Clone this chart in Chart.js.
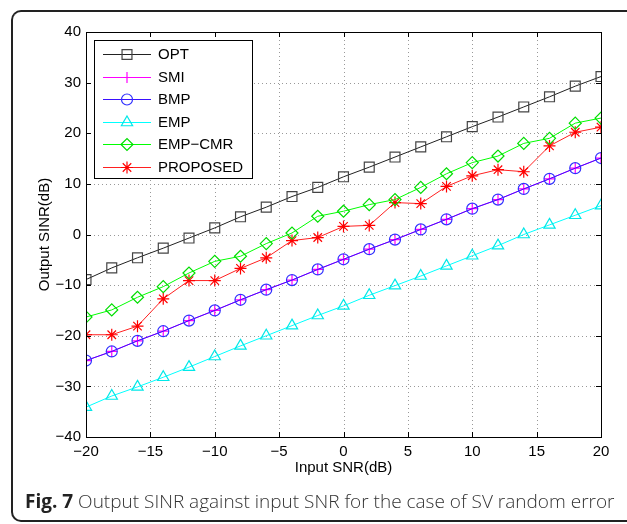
<!DOCTYPE html>
<html>
<head>
<meta charset="utf-8">
<script src="https://cdn.jsdelivr.net/npm/chart.js@4/dist/chart.umd.min.js"></script>
<style>
  html, body { margin:0; padding:0; background:#fff; }
  #wrap { position:relative; width:627px; height:524px; overflow:hidden; background:#fff; }
  #frame { position:absolute; left:11px; top:10px; width:640px; height:512px; box-sizing:border-box;
           border:2px solid #222; border-right:none; border-radius:10px 0 0 10px; }
  #c { position:absolute; left:0; top:0; }
  #cap { position:absolute; left:25px; top:488px; font-family:"Open Sans", sans-serif; font-size:19px;
         color:#333; white-space:nowrap; font-weight:300; }
  #cap b { font-weight:700; color:#222; }
</style>
</head>
<body>
<div id="wrap">
  <div id="frame"></div>
  <canvas id="c" width="627" height="524"></canvas>
  <div id="cap"><b>Fig. 7</b> Output SINR against input SNR for the case of SV random error</div>
</div>
<script>
const inputSNR = [-20,-18,-16,-14,-12,-10,-8,-6,-4,-2,0,2,4,6,8,10,12,14,16,18,20];
const OPT      = [-8.9,-6.6,-4.6,-2.7,-0.7,1.3,3.5,5.4,7.5,9.3,11.4,13.3,15.3,17.3,19.3,21.3,23.2,25.2,27.2,29.3,31.2];
const SMI      = [-24.9,-23.1,-21.0,-19.1,-17.0,-15.0,-12.9,-10.9,-9.0,-6.9,-4.9,-2.9,-1.0,1.0,3.0,5.1,6.9,9.0,11.0,13.1,15.1];
const BMP      = [-24.9,-23.1,-21.0,-19.1,-17.0,-15.0,-12.9,-10.9,-9.0,-6.9,-4.9,-2.9,-1.0,1.0,3.0,5.1,6.9,9.0,11.0,13.1,15.1];
const EMP      = [-34.1,-31.9,-30.1,-28.2,-26.2,-24.1,-22.0,-20.0,-18.0,-16.0,-14.1,-12.0,-10.1,-8.2,-6.2,-4.2,-2.2,0.0,1.9,3.8,5.7];
const EMP_CMR  = [-16.3,-14.9,-12.4,-10.3,-7.6,-5.3,-4.3,-1.8,0.3,3.6,4.6,5.9,6.9,9.3,12.0,14.2,15.5,18.0,19.0,22.0,23.0];
const PROPOSED = [-19.8,-19.8,-18.1,-12.7,-9.1,-9.1,-6.7,-4.6,-1.2,-0.6,1.6,1.8,6.3,6.1,9.5,11.6,12.8,12.4,17.5,20.2,21.2];
const xTicks = [-20,-15,-10,-5,0,5,10,15,20];
const yTicks = [-40,-30,-20,-10,0,10,20,30,40];
const seriesNames = ['OPT','SMI','BMP','EMP','EMP\u2212CMR','PROPOSED'];

function pts(arr){ return arr.map((v,i)=>({x:inputSNR[i], y:v})); }

const styles = [
  {line:'#222222', pt:'#444444', shape:'rect', r:7},
  {line:'#ff00ff', pt:'#ff00ff', shape:'cross', r:5.5},
  {line:'#3a10ff', pt:'#3030ff', shape:'circle', r:5.5},
  {line:'#00ffff', pt:'#00e8e8', shape:'triangle', r:6.5},
  {line:'#00ff00', pt:'#00dd00', shape:'rectRot', r:6},
  {line:'#ff2020', pt:'#ff0000', shape:'star', r:6}
];
const seriesData = [OPT, SMI, BMP, EMP, EMP_CMR, PROPOSED];
const orders = [1, 3, 2, 4, 5, 6];

const datasets = seriesData.map((d,i)=>({
  label: seriesNames[i],
  data: pts(d),
  borderColor: styles[i].line,
  borderWidth: 1,
  pointStyle: styles[i].shape,
  pointRadius: styles[i].r,
  pointBorderColor: styles[i].pt,
  pointBackgroundColor: 'rgba(0,0,0,0)',
  pointBorderWidth: 1.2,
  fill: false,
  tension: 0,
  order: orders[i]
}));

const boxPlugin = {
  id: 'boxPlugin',
  beforeDatasetsDraw(chart){
    const {ctx, chartArea:a, scales:{x, y}} = chart;
    ctx.save();
    ctx.strokeStyle = '#999';
    ctx.lineWidth = 1;
    ctx.setLineDash([1,3]);
    xTicks.forEach(v=>{
      if (v === -20 || v === 20) return;
      const px = Math.round(x.getPixelForValue(v)) + 0.5;
      ctx.beginPath(); ctx.moveTo(px, a.top); ctx.lineTo(px, a.bottom); ctx.stroke();
    });
    yTicks.forEach(v=>{
      if (v === -40 || v === 40) return;
      const py = Math.round(y.getPixelForValue(v)) + 0.5;
      ctx.beginPath(); ctx.moveTo(a.left, py); ctx.lineTo(a.right, py); ctx.stroke();
    });
    ctx.restore();
  },
  afterDraw(chart){
    const {ctx, chartArea:a, scales:{x, y}} = chart;
    ctx.save();
    ctx.setLineDash([]);
    ctx.strokeStyle = '#000';
    ctx.lineWidth = 1;
    const tl = 5;
    xTicks.forEach(v=>{
      const px = Math.round(x.getPixelForValue(v)) + 0.5;
      ctx.beginPath(); ctx.moveTo(px, a.bottom); ctx.lineTo(px, a.bottom - tl); ctx.stroke();
      ctx.beginPath(); ctx.moveTo(px, a.top); ctx.lineTo(px, a.top + tl); ctx.stroke();
    });
    yTicks.forEach(v=>{
      const py = Math.round(y.getPixelForValue(v)) + 0.5;
      ctx.beginPath(); ctx.moveTo(a.left, py); ctx.lineTo(a.left + tl, py); ctx.stroke();
      ctx.beginPath(); ctx.moveTo(a.right, py); ctx.lineTo(a.right - tl, py); ctx.stroke();
    });
    ctx.strokeRect(Math.round(a.left)+0.5, Math.round(a.top)+0.5, Math.round(a.right-a.left), Math.round(a.bottom-a.top));

    // legend
    const lx = Math.round(a.left) + 8, ly = Math.round(a.top) + 8;
    const lw = 158, lh = 138;
    ctx.fillStyle = '#fff';
    ctx.fillRect(lx, ly, lw, lh);
    ctx.strokeStyle = '#000';
    ctx.strokeRect(lx + 0.5, ly + 0.5, lw, lh);
    ctx.font = '15px "Liberation Sans", Arial, sans-serif';
    ctx.textBaseline = 'middle';
    chart.data.datasets.forEach((ds, i)=>{
      const yy = Math.round(ly + 14 + i * 22.5) + 0.5;
      ctx.strokeStyle = ds.borderColor;
      ctx.lineWidth = 1;
      ctx.beginPath(); ctx.moveTo(lx + 9, yy); ctx.lineTo(lx + 57, yy); ctx.stroke();
      ctx.strokeStyle = ds.pointBorderColor;
      ctx.fillStyle = 'rgba(0,0,0,0)';
      ctx.lineWidth = 1.2;
      Chart.helpers.drawPoint(ctx, {pointStyle: ds.pointStyle, radius: ds.pointRadius, borderWidth: 1.2}, lx + 33, yy);
      ctx.fillStyle = '#000';
      ctx.fillText(ds.label, lx + 64, yy + 0.5);
    });
    ctx.restore();
  }
};

const tickFont = {family: '"Liberation Sans", Arial, sans-serif', size: 15};
new Chart(document.getElementById('c'), {
  type: 'line',
  data: { datasets },
  options: {
    responsive: false,
    animation: false,
    layout: { padding: { left: 36, right: 26, top: 32, bottom: 47 } },
    plugins: { legend: { display: false }, tooltip: { enabled: false } },
    scales: {
      x: {
        type: 'linear', min: -20, max: 20,
        afterBuildTicks: s => { s.ticks = xTicks.map(v=>({value:v})); },
        afterFit: s => { s.height = 40; },
        ticks: { color: '#000', font: tickFont, padding: 6, maxRotation: 0,
                 callback: v => String(v).replace('-', '\u2212') },
        grid: { display: false, drawTicks: false },
        border: { display: false },
        title: { display: true, text: 'Input SNR(dB)', color: '#000', font: tickFont, padding: 0 }
      },
      y: {
        type: 'linear', min: -40, max: 40,
        afterBuildTicks: s => { s.ticks = yTicks.map(v=>({value:v})); },
        afterFit: s => { s.width = 50; },
        ticks: { color: '#000', font: tickFont, padding: 5,
                 callback: v => String(v).replace('-', '\u2212') },
        grid: { display: false, drawTicks: false },
        border: { display: false },
        title: { display: true, text: 'Output SINR(dB)', color: '#000', font: tickFont, padding: 0 }
      }
    }
  },
  plugins: [boxPlugin]
});
</script>
</body>
</html>
